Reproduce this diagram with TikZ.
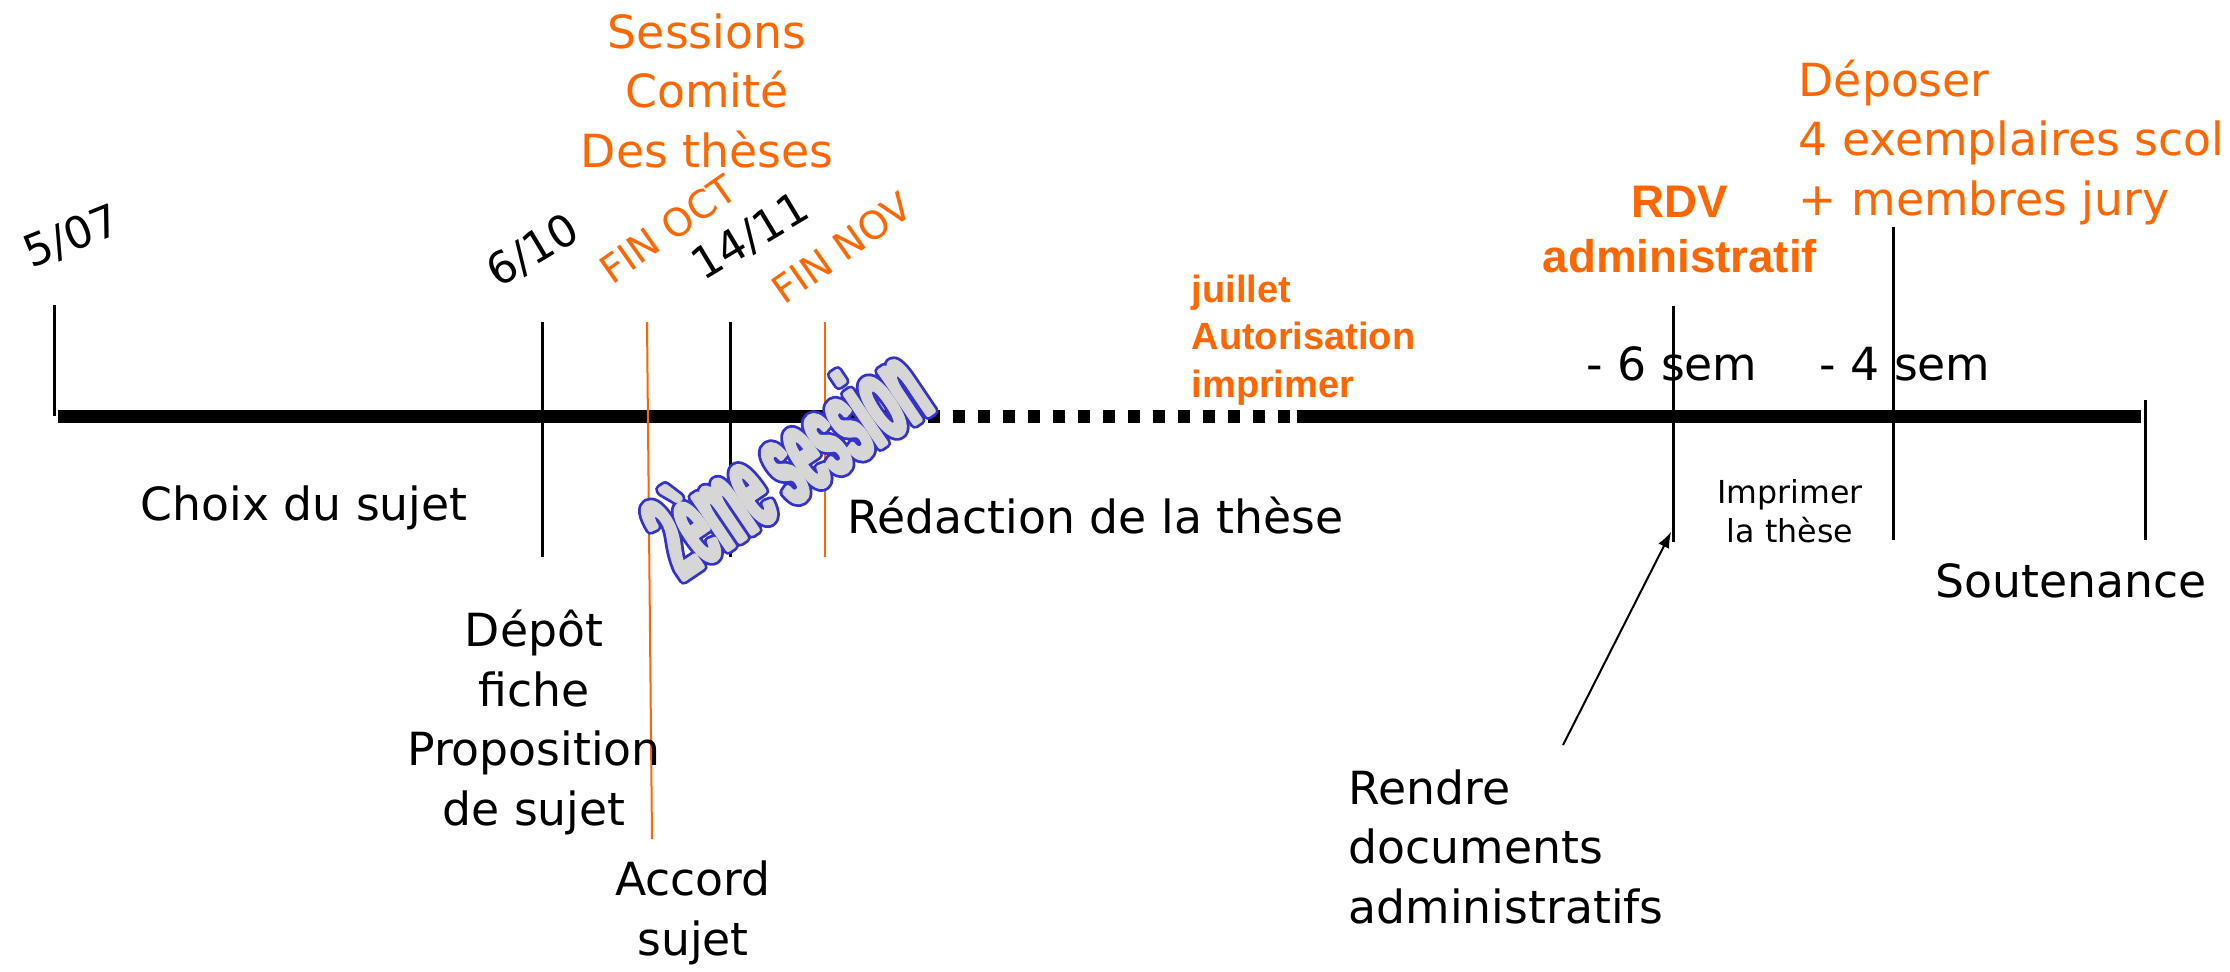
\documentclass[tikz,border=0pt]{standalone}
\usepackage{fontspec}
\setmainfont{DejaVu Sans}
\newfontfamily\policegras{Liberation Sans}
\newfontfamily\policewordart[FakeStretch=0.39]{Liberation Sans}
\definecolor{orangeppt}{RGB}{255,102,0}
\definecolor{grisfond}{RGB}{214,214,214}
\newcommand{\contourbleu}[1]{\rlap{\special{pdf:literal direct 0.2 0.2 0.8 RG 2 Tr 3 w 1 j}#1}\special{pdf:literal direct 0.84 0.84 0.84 RG 2 Tr 1.4 w 1 j}#1\special{pdf:literal direct 0 Tr}}

\begin{document}
\begin{tikzpicture}[
  x=0.1mm, y=-0.1mm,
  every node/.style={inner sep=0pt}
]
\tikzstyle{axe}=[line width=1.3mm]
\tikzstyle{pointille}=[line width=1.3mm, dash pattern=on 1.2mm off 1.3mm]
\tikzstyle{repere}=[line width=0.3mm]
\tikzstyle{repereorange}=[line width=0.2mm, draw=orangeppt]
\tikzstyle{texte}=[font=\fontsize{13}{16.9}\selectfont]
\tikzstyle{annonce}=[texte, text=orangeppt]
\tikzstyle{date}=[font=\fontsize{12.5}{14}\selectfont]
\tikzstyle{fin}=[font=\fontsize{11}{13}\selectfont, text=orangeppt]
\tikzstyle{gras}=[font=\policegras\bfseries\fontsize{13}{15.6}\selectfont, text=orangeppt]
\tikzstyle{grasmoyen}=[font=\policegras\bfseries\fontsize{10.8}{13.4}\selectfont, text=orangeppt]
\tikzstyle{petit}=[font=\fontsize{9}{11.1}\selectfont]
\tikzstyle{fleche}=[->, >=latex, line width=0.2mm]
\tikzstyle{wordart}=[font=\policewordart\bfseries\fontsize{34}{38}\selectfont, text=grisfond]

\useasboundingbox (0,0) rectangle (2230,971);

\draw[axe] (58,416) -- (913,416);
\draw[pointille] (1290,416) -- (915,416);
\draw[axe] (1297,416) -- (2141,416);

\draw[repere] (54,305) -- (54,416);
\draw[repere] (542,322) -- (542,557);
\draw[repere] (730,322) -- (730,557);
\draw[repere] (1673,306) -- (1673,542);
\draw[repere] (1893,227) -- (1893,540);
\draw[repere] (2145,400) -- (2145,540);
\draw[repereorange] (647,322) -- (652,839);
\draw[repereorange] (825,322) -- (825,557);

\node[date, rotate=22] (d0507) at (72,237) {5/07};
\node[date, rotate=31] (d0610) at (533,251) {6/10};
\node[date, rotate=31] (d1411) at (751,237) {14/11};
\node[fin, rotate=35] (finoct) at (668,229) {FIN OCT};
\node[fin, rotate=35] (finnov) at (842,248) {FIN NOV};

\node[annonce, align=center, anchor=base] (sessions) at (707,167) {Sessions\\Comité\\Des thèses};
\node[annonce, align=left, anchor=base west] (deposer) at (1798,215) {Déposer\\4 exemplaires scol\\+ membres jury};
\node[gras, align=center, anchor=base] (rdv) at (1680,272) {RDV\\administratif};
\node[grasmoyen, align=left, anchor=base west] (juillet) at (1191,397) {juillet\\Autorisation\\imprimer};

\node[texte, anchor=base] (sem6) at (1672,380) {- 6 sem};
\node[texte, anchor=base] (sem4) at (1905,380) {- 4 sem};

\node[texte, anchor=base] (choix) at (304,520) {Choix du sujet};
\node[texte, align=center, anchor=base] (depot) at (534,825) {Dépôt\\fiche\\Proposition\\de sujet};
\node[texte, align=center, anchor=base] (accord) at (693,955) {Accord\\sujet};
\node[texte, anchor=base west] (redaction) at (847,533) {Rédaction de la thèse};
\node[petit, align=center, anchor=base] (imprimer) at (1790,542) {Imprimer\\la thèse};
\node[texte, anchor=base] (soutenance) at (2071,597) {Soutenance};
\node[texte, align=left, anchor=base west] (rendre) at (1348,923) {Rendre\\documents\\administratifs};

\coordinate (depart) at (1563,745);
\coordinate (arrivee) at (1671,532);
\draw[fleche] (depart) -- (arrivee);

\node[wordart, rotate=34] (session2) at (785,459) {\contourbleu{2ème session}};
\end{tikzpicture}
\end{document}
